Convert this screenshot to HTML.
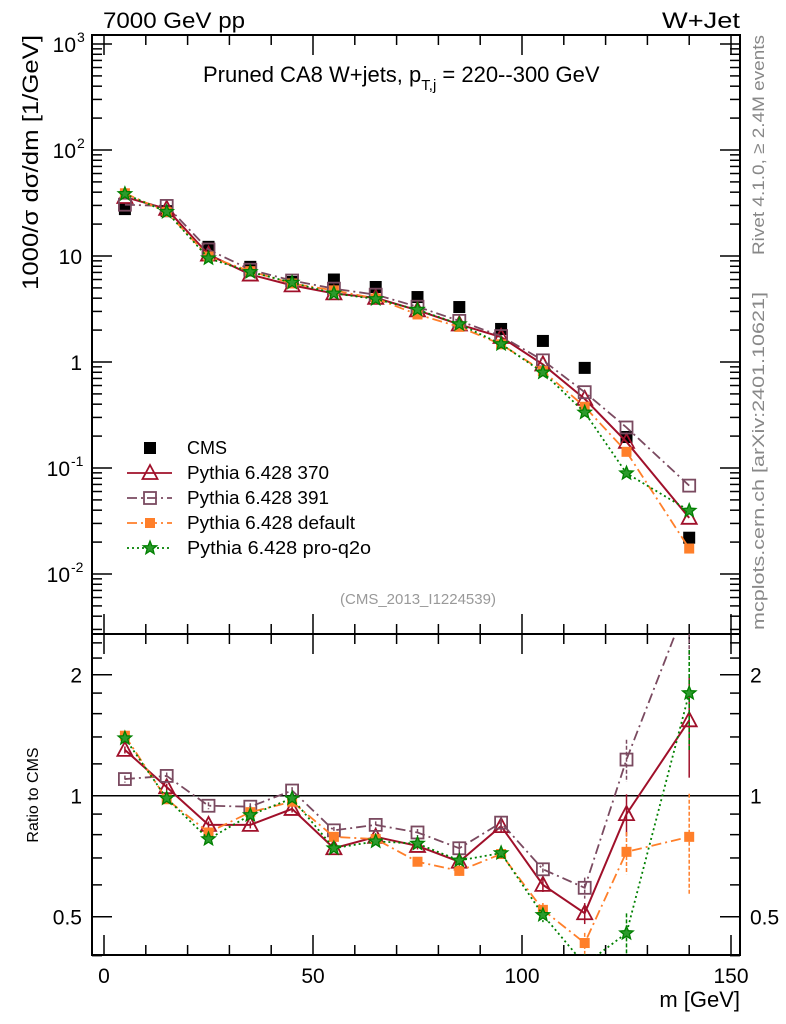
<!DOCTYPE html>
<html><head><meta charset="utf-8"><style>
html,body{margin:0;padding:0;background:#fff;}
svg{display:block;font-family:"Liberation Sans",sans-serif;}
</style></head><body>
<svg id="c" width="786" height="1024" xmlns="http://www.w3.org/2000/svg"></svg>
<script>
const mass = [5,15,25,35,45,55,65,75,85,95,105,115,125,140];
const cms = [27.7,26.5,12.2,7.9,5.7,6.0,5.1,4.1,3.3,2.05,1.58,0.88,0.196,0.022];
const r370 = [1.30,1.05,0.846,0.846,0.927,0.74,0.79,0.75,0.685,0.84,0.60,0.51,0.90,1.54];
const r391 = [1.10,1.12,0.944,0.939,1.03,0.82,0.846,0.81,0.74,0.857,0.656,0.59,1.23,3.1];
const rdef = [1.41,0.98,0.81,0.91,0.966,0.79,0.78,0.685,0.65,0.716,0.52,0.43,0.725,0.79];
const rq2o = [1.39,0.985,0.78,0.895,0.985,0.74,0.77,0.76,0.69,0.72,0.505,0.38,0.455,1.80];
const ratioErr = [0.02,0.02,0.02,0.02,0.02,0.02,0.02,0.02,0.03,0.03,0.04,0.06,0.12,0.28];
const xTicks = [0,50,100,150];
const yTickExp = [3,2,1,0,-1,-2];
const rTicks = [0.5,1,2];

const NS="http://www.w3.org/2000/svg";
const svg=document.getElementById('c');
const L=92,R=740,T=35,MB=634,RB=955;
const X=v=>104+4.18*v;
const YL=v=>362-106*Math.log10(v);
const YR=v=>795.7-121*Math.log2(v);
function el(t,a,p){const e=document.createElementNS(NS,t);for(const k in a)e.setAttribute(k,a[k]);(p||svg).appendChild(e);return e;}
function txt(s,a,p){const e=el('text',a,p);e.textContent=s;return e;}

const defs=el('defs',{});
const c1=el('clipPath',{id:'cm'},defs);el('rect',{x:L,y:T,width:R-L,height:MB-T},c1);
const c2=el('clipPath',{id:'cr'},defs);el('rect',{x:L,y:MB,width:R-L,height:RB-MB},c2);

const fm=el('rect',{x:L,y:T,width:R-L,height:MB-T,fill:'none',stroke:'#000','stroke-width':2});


const fr=el('rect',{x:L,y:MB,width:R-L,height:RB-MB,fill:'none',stroke:'#000','stroke-width':2});



for(let v=0;v<=150;v+=10){
  const maj=v%50===0, len=maj?20:10, x=X(v);
  [[T,1],[MB,-1],[MB,1],[RB,-1]].forEach(([y,d])=>el('line',{x1:x,x2:x,y1:y,y2:y+d*len,stroke:'#000','stroke-width':1.5}));
}
xTicks.forEach(v=>{const t=txt(String(v),{x:X(v),y:983,'font-size':21,'text-anchor':'middle'});
});
const xl=txt('m [GeV]',{x:740,y:1007,'font-size':22,'text-anchor':'end'});


for(let e=-3;e<=3;e++){for(let m=1;m<10;m++){const v=m*Math.pow(10,e);const y=YL(v);if(y<T||y>MB)continue;
  const len=m===1?20:10;
  el('line',{x1:L,x2:L+len,y1:y,y2:y,stroke:'#000','stroke-width':1.5});
  el('line',{x1:R,x2:R-len,y1:y,y2:y,stroke:'#000','stroke-width':1.5});}}
yTickExp.forEach(e=>{const y=YL(Math.pow(10,e))+8;let t;
  if(e===1) t=txt('10',{x:82,y:y,'font-size':21,'text-anchor':'end'});
  else if(e===0) t=txt('1',{x:82,y:y,'font-size':21,'text-anchor':'end'});
  else {t=el('text',{x:76,y:y,'font-size':21,'text-anchor':'end'});t.textContent='10';
    const s=txt(String(e),{x:77,y:y-10,'font-size':14,'text-anchor':'start'});
    
    if(e<0){t.setAttribute('x',70);s.setAttribute('x',71);}}
  });

[0.4,0.5,0.6,0.7,0.8,0.9,1,1.2,1.4,1.6,1.8,2,2.2,2.4].forEach(v=>{const y=YR(v);const len=(v===0.5||v===1||v===2)?20:10;
  el('line',{x1:L,x2:L+len,y1:y,y2:y,stroke:'#000','stroke-width':1.5});
  el('line',{x1:R,x2:R-len,y1:y,y2:y,stroke:'#000','stroke-width':1.5});});
rTicks.forEach(v=>{const y=YR(v)+8;
  const a=txt(String(v),{x:82,y:y,'font-size':21,'text-anchor':'end'});
  
  const b=txt(String(v),{x:750,y:y,'font-size':21,'text-anchor':'start','fill':'#000'});
  });
el('line',{x1:L,x2:R,y1:YR(1),y2:YR(1),stroke:'#000','stroke-width':1.5});

const series=[
 {name:'pythia-370',r:r370,col:'#a0102a',dash:'',mk:'tri'},
 {name:'pythia-391',r:r391,col:'#7a4a60',dash:'10,4,2,4',mk:'sq'},
 {name:'pythia-default',r:rdef,col:'#ff7f2a',dash:'10,4,2,4',mk:'fsq'},
 {name:'pythia-pro-q2o',r:rq2o,col:'#008000',dash:'2,3',mk:'star'}];
function marker(g,mk,x,y,col){
  if(mk==='tri')el('polygon',{points:`${x},${y-8} ${x-7.5},${y+6} ${x+7.5},${y+6}`,fill:'none',stroke:col,'stroke-width':1.8},g);
  else if(mk==='sq')el('rect',{x:x-6,y:y-6,width:12,height:12,fill:'none',stroke:col,'stroke-width':1.8},g);
  else if(mk==='fsq')el('rect',{x:x-5,y:y-5,width:10,height:10,fill:col},g);
  else if(mk==='star'){let p=[];for(let i=0;i<10;i++){const a=-Math.PI/2+i*Math.PI/5,rr=i%2?3:7;p.push((x+rr*Math.cos(a)).toFixed(1)+','+(y+rr*Math.sin(a)).toFixed(1));}
    el('polygon',{points:p.join(' '),fill:'#2c9a2c',stroke:col,'stroke-width':1.3},g);}
  else if(mk==='cms')el('rect',{x:x-6,y:y-6,width:12,height:12,fill:'#000'},g);
}
const gc=el('g',{'clip-path':'url(#cm)'});

mass.forEach((m,i)=>marker(gc,'cms',X(m),YL(cms[i]),'#000'));
series.forEach(s=>{
  const gm=el('g',{'clip-path':'url(#cm)'});
  
  const vals=mass.map((m,i)=>cms[i]*s.r[i]);
  el('polyline',{points:mass.map((m,i)=>X(m)+','+YL(vals[i])).join(' '),fill:'none',stroke:s.col,'stroke-width':s.mk==='tri'?2:1.8,'stroke-dasharray':s.dash},gm);
  mass.forEach((m,i)=>marker(gm,s.mk,X(m),YL(vals[i]),s.col));
  const gr=el('g',{'clip-path':'url(#cr)'});
  
  el('polyline',{points:mass.map((m,i)=>X(m)+','+YR(s.r[i])).join(' '),fill:'none',stroke:s.col,'stroke-width':s.mk==='tri'?2:1.8,'stroke-dasharray':s.dash},gr);
  mass.forEach((m,i)=>{const e=ratioErr[i]*s.r[i];
    el('line',{x1:X(m),x2:X(m),y1:YR(s.r[i]+e),y2:YR(Math.max(s.r[i]-e,0.05)),stroke:s.col,'stroke-width':1.5,'stroke-dasharray':s.dash?'4,2':''},gr);
    marker(gr,s.mk,X(m),YR(s.r[i]),s.col);});
});

const lg=el('g',{});
const leg=[['CMS','cms','#000','',0],['Pythia 6.428 370','tri','#a0102a','',142],['Pythia 6.428 391','sq','#7a4a60','10,4,2,4',142],['Pythia 6.428 default','fsq','#ff7f2a','10,4,2,4',168],['Pythia 6.428 pro-q2o','star','#008000','2,3',184]];
leg.forEach((l,i)=>{const y=448+i*25;const g=el('g',{},lg);
  
  if(i>0)el('line',{x1:127,x2:172,y1:y,y2:y,stroke:l[2],'stroke-width':1.8,'stroke-dasharray':l[3]},g);
  marker(g,l[1],150,y,l[2]);
  const a={x:187,y:y+6,'font-size':18};
  if(l[4]){a.textLength=l[4];a.lengthAdjust='spacingAndGlyphs';}
  txt(l[0],a,g);});

const t1=txt('7000 GeV pp',{x:103,y:28,'font-size':22,textLength:142,lengthAdjust:'spacingAndGlyphs'});
const t2=txt('W+Jet',{x:740,y:28,'font-size':22,'text-anchor':'end',textLength:78,lengthAdjust:'spacingAndGlyphs'});
const tt=el('text',{x:203,y:82,'font-size':22,'text-anchor':'start'});
tt.innerHTML='Pruned CA8 W+jets, p<tspan dy="8" font-size="15">T,j</tspan><tspan dy="-8"> = 220--300 GeV</tspan>';
const ta=txt('(CMS_2013_I1224539)',{x:418,y:604,'font-size':15,'text-anchor':'middle',fill:'#999'});
const yt=txt('1000/σ   dσ/dm [1/GeV]',{x:0,y:0,'font-size':22,'text-anchor':'end',textLength:255,lengthAdjust:'spacingAndGlyphs',transform:'translate(38,35) rotate(-90)'});
const rt=txt('Ratio to CMS',{x:0,y:0,'font-size':16,'text-anchor':'middle',transform:'translate(38,795) rotate(-90)'});
const rv=txt('Rivet 4.1.0, ≥ 2.4M events',{x:0,y:0,'font-size':17,'text-anchor':'end',fill:'#888',textLength:220,lengthAdjust:'spacingAndGlyphs',transform:'translate(764,35) rotate(-90)'});
const mc=txt('mcplots.cern.ch [arXiv:2401.10621]',{x:0,y:0,'font-size':17,'text-anchor':'start',fill:'#888',textLength:338,lengthAdjust:'spacingAndGlyphs',transform:'translate(764,630) rotate(-90)'});
</script>
</body></html>
